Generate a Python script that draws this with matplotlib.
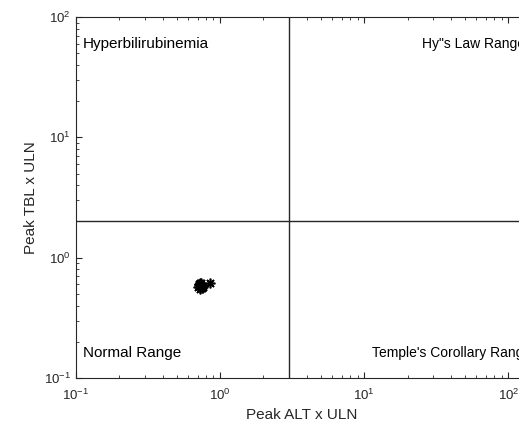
import numpy as np
import matplotlib.pyplot as plt

plt.rcParams['font.family'] = ['Liberation Sans', 'DejaVu Sans']
plt.rcParams['mathtext.fontset'] = 'custom'
plt.rcParams['mathtext.rm'] = 'Liberation Sans'
plt.rcParams['mathtext.it'] = 'Liberation Sans:italic'
plt.rcParams['mathtext.bf'] = 'Liberation Sans:bold'

# peak values per subject (x ULN)
alt_peak = [0.71, 0.72, 0.73, 0.74, 0.75, 0.72, 0.74, 0.76, 0.73, 0.85]
tbl_peak = [0.57, 0.60, 0.55, 0.58, 0.56, 0.59, 0.61, 0.57, 0.62, 0.62]

# Hy's law thresholds
alt_cut = 3
tbl_cut = 2

region_labels = ["Hyperbilirubinemia", "Hy\"s Law Range", "Normal Range", "Temple's Corollary Range"]
region_x = [0.112, 25.3, 0.112, 11.3]
region_y = [60.0, 60.0, 0.162, 0.162]
region_size = [11, 10, 11, 10]

fig = plt.figure(figsize=(5.19, 4.26), dpi=100)
# axes runs slightly past the right edge of the figure
ax = fig.add_axes([0.1459, 0.1127, 0.8715, 0.8474])

ax.set_xscale('log')
ax.set_yscale('log')
ax.set_xlim(0.1, 137)
ax.set_ylim(0.1, 100)

ax.axvline(alt_cut, color='#262626', lw=1.0)
ax.axhline(tbl_cut, color='#262626', lw=1.0)

ax.plot(alt_peak, tbl_peak, linestyle='none', marker=(8, 2, 0), color='black',
        markersize=7, markeredgewidth=1.2)

for lab, tx, ty, fs in zip(region_labels, region_x, region_y, region_size):
    ax.text(tx, ty, lab, fontsize=fs, ha='left', va='center', color='black')

ax.set_xlabel('Peak ALT x ULN', fontsize=11, color='#262626', labelpad=4)
ax.set_ylabel('Peak TBL x ULN', fontsize=11, color='#262626')

ax.tick_params(which='both', direction='in', top=True, right=True,
               labelsize=9.5, colors='#262626')
ax.tick_params(axis='x', pad=7)
ax.tick_params(which='major', length=4)
ax.tick_params(which='minor', length=2)
for sp in ax.spines.values():
    sp.set_color('#262626')
    sp.set_linewidth(0.8)

fig.savefig('out.png', dpi=100)
